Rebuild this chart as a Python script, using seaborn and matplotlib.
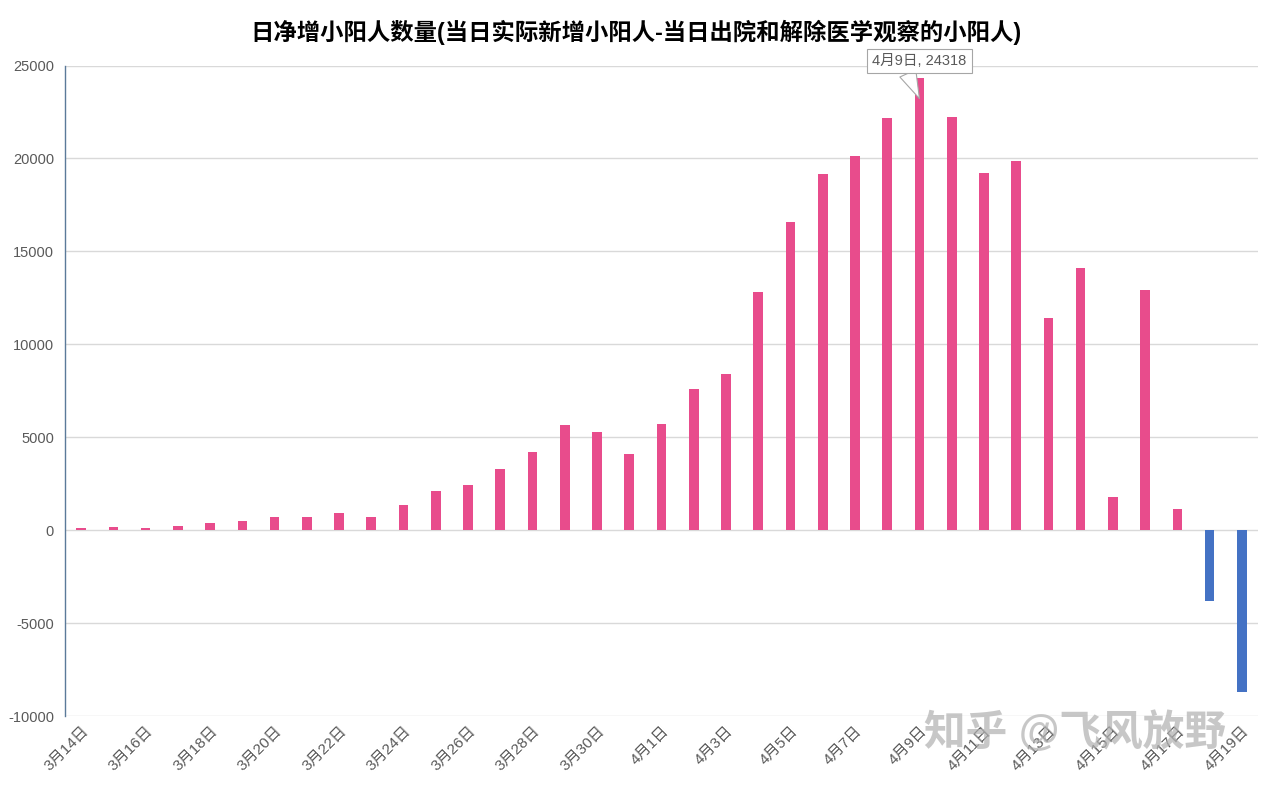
import matplotlib
matplotlib.use("Agg")
import matplotlib.pyplot as plt
import seaborn as sns
import pandas as pd

dates = ["3月14日", "3月15日", "3月16日", "3月17日", "3月18日", "3月19日", "3月20日",
         "3月21日", "3月22日", "3月23日", "3月24日", "3月25日", "3月26日", "3月27日",
         "3月28日", "3月29日", "3月30日", "3月31日", "4月1日", "4月2日", "4月3日",
         "4月4日", "4月5日", "4月6日", "4月7日", "4月8日", "4月9日", "4月10日",
         "4月11日", "4月12日", "4月13日", "4月14日", "4月15日", "4月16日", "4月17日",
         "4月18日", "4月19日"]
values = [120, 180, 120, 230, 360, 470, 720, 720, 900, 720, 1360, 2115, 2440, 3300,
          4200, 5670, 5290, 4110, 5720, 7600, 8410, 12810, 16580, 19160, 20150, 22190,
          24318, 22245, 19230, 19880, 11430, 14100, 1790, 12930, 1130, -3800, -8700]
title = "日净增小阳人数量(当日实际新增小阳人-当日出院和解除医学观察的小阳人)"
yticks = [-10000, -5000, 0, 5000, 10000, 15000, 20000, 25000]

sns.set_theme(style="white")
plt.rcParams['font.family'] = ['Liberation Sans', 'Noto Sans CJK SC', 'DejaVu Sans']

df = pd.DataFrame({"date": dates, "value": values})
df["sign"] = ["pos" if v >= 0 else "neg" for v in values]

fig = plt.figure(figsize=(12.71, 7.85), dpi=100)
ax = fig.add_axes([65 / 1271, 1 - 716 / 785, 1193 / 1271, (716 - 65.5) / 785])

sns.barplot(data=df, x="date", y="value", hue="sign",
            palette={"pos": "#E84C8C", "neg": "#4472C4"}, saturation=1,
            dodge=False, width=0.3, legend=False, ax=ax, zorder=3, linewidth=0)

ax.set_xlim(-0.5, len(dates) - 0.5)
ax.set_ylim(-10000, 25000)
ax.set_yticks(yticks)
ax.set_yticklabels([str(t) for t in yticks], color="#595959", fontsize=10.5)
ax.yaxis.grid(True, color="#D9D9D9", linewidth=1, zorder=0)
ax.xaxis.grid(False)
ax.set_xticks(range(0, len(dates), 2))
ax.set_xticklabels(dates[::2], rotation=45, ha="right", rotation_mode="anchor",
                   color="#595959", fontsize=11)
ax.tick_params(axis="x", length=0, pad=6)
ax.tick_params(axis="y", length=0, pad=8)
for s in ["top", "right", "bottom"]:
    ax.spines[s].set_visible(False)
ax.spines["left"].set_color("#5B7A99")
ax.spines["left"].set_linewidth(1)
ax.set_xlabel("")
ax.set_ylabel("")

fig.suptitle(title, x=0.5, y=0.975, fontsize=16.8, fontweight="bold", color="#000000")

peak = values.index(max(values))
ax.annotate(f"{dates[peak]}, {values[peak]}", xy=(peak, values[peak] - 1100),
            xytext=(peak, 25250), ha="center", va="center",
            fontsize=10.5, color="#595959",
            bbox=dict(boxstyle="square,pad=0.35", fc="white", ec="#A6A6A6", lw=0.8),
            arrowprops=dict(arrowstyle="wedge,tail_width=1.2", fc="white", ec="#A6A6A6",
                            lw=0.8, shrinkA=0, shrinkB=0,
                            relpos=(0.35, 0.0)),
            zorder=5)

fig.text(1075 / 1271, 1 - 733 / 785, "知乎 @飞风放野", fontsize=30, color="#B0B0B0",
         alpha=0.7, ha="center", va="center", zorder=10, fontweight="bold")

fig.savefig("out.png", dpi=100)
